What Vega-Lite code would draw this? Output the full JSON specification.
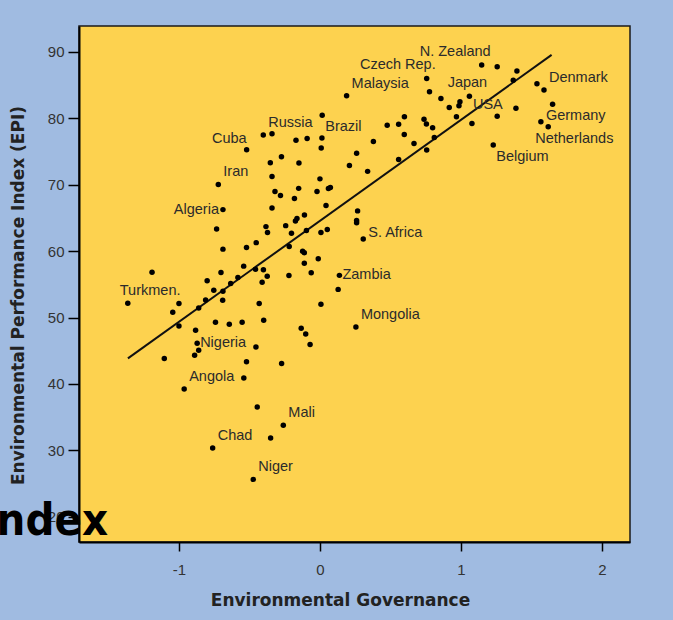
{
  "$schema": "https://vega.github.io/schema/vega-lite/v6.json",
  "autosize": {"type": "none"},
  "padding": {"left": 79, "top": 26, "right": 43, "bottom": 78},
  "width": 551,
  "height": 516,
  "background": "#a0bbe1",
  "title": {
    "text": "Index",
    "orient": "top",
    "anchor": "start",
    "frame": "group",
    "align": "right",
    "baseline": "alphabetic",
    "font": "DejaVu Sans Condensed",
    "fontWeight": "bold",
    "fontSize": 45,
    "color": "#000000",
    "offset": 0,
    "dx": 29,
    "dy": 554
  },
  "config": {
    "view": {"fill": "#fdd24f", "stroke": "#1a1a1a", "strokeWidth": 1.5},
    "text": {"font": "Liberation Sans", "fontSize": 14.5, "color": "#2b2b2b", "baseline": "middle"},
    "axis": {
      "grid": false,
      "domainColor": "#000000",
      "domainWidth": 2,
      "tickColor": "#000000",
      "tickWidth": 1.5,
      "labelFont": "Liberation Sans",
      "labelFontSize": 15,
      "labelColor": "#333333",
      "titleFont": "DejaVu Sans",
      "titleFontWeight": "bold",
      "titleFontSize": 17,
      "titleColor": "#222222"
    }
  },
  "datasets": {
    "countries": [
      {"governance": 1.147, "epi": 88.04, "country": "N. Zealand"},
      {"governance": 1.257, "epi": 87.78},
      {"governance": 1.397, "epi": 87.14},
      {"governance": 1.371, "epi": 85.73},
      {"governance": 1.539, "epi": 85.22},
      {"governance": 1.589, "epi": 84.27, "country": "Denmark"},
      {"governance": 1.65, "epi": 82.12},
      {"governance": 1.567, "epi": 79.49, "country": "Germany"},
      {"governance": 1.619, "epi": 78.74, "country": "Netherlands"},
      {"governance": 1.39, "epi": 81.51},
      {"governance": 1.257, "epi": 80.31},
      {"governance": 1.078, "epi": 79.22},
      {"governance": 1.229, "epi": 75.98, "country": "Belgium"},
      {"governance": 0.757, "epi": 86.0, "country": "Czech Rep."},
      {"governance": 0.777, "epi": 84.0},
      {"governance": 0.858, "epi": 82.99},
      {"governance": 0.917, "epi": 81.63},
      {"governance": 0.993, "epi": 82.51, "country": "USA"},
      {"governance": 0.986, "epi": 81.9},
      {"governance": 1.06, "epi": 83.32, "country": "Japan"},
      {"governance": 0.968, "epi": 80.25},
      {"governance": 0.738, "epi": 79.85},
      {"governance": 0.755, "epi": 79.15},
      {"governance": 0.799, "epi": 78.59},
      {"governance": 0.811, "epi": 77.11},
      {"governance": 0.667, "epi": 76.21},
      {"governance": 0.757, "epi": 75.23},
      {"governance": 0.189, "epi": 83.4, "country": "Malaysia"},
      {"governance": 0.599, "epi": 80.25},
      {"governance": 0.558, "epi": 79.12},
      {"governance": 0.477, "epi": 78.96},
      {"governance": 0.598, "epi": 77.56},
      {"governance": 0.379, "epi": 76.51},
      {"governance": 0.26, "epi": 74.74},
      {"governance": 0.209, "epi": 72.89},
      {"governance": 0.338, "epi": 72.01},
      {"governance": 0.558, "epi": 73.79},
      {"governance": 0.016, "epi": 80.47, "country": "Brazil"},
      {"governance": -0.402, "epi": 77.49, "country": "Russia"},
      {"governance": -0.34, "epi": 77.68},
      {"governance": -0.17, "epi": 76.7},
      {"governance": -0.091, "epi": 76.96},
      {"governance": 0.014, "epi": 77.03},
      {"governance": 0.009, "epi": 75.53},
      {"governance": -0.52, "epi": 75.27, "country": "Cuba"},
      {"governance": -0.273, "epi": 74.22},
      {"governance": -0.352, "epi": 73.31},
      {"governance": -0.149, "epi": 73.27},
      {"governance": -0.34, "epi": 71.23},
      {"governance": 0.0, "epi": 70.88},
      {"governance": -0.151, "epi": 69.45},
      {"governance": -0.021, "epi": 68.97},
      {"governance": 0.06, "epi": 69.42},
      {"governance": 0.074, "epi": 69.57},
      {"governance": -0.319, "epi": 68.97},
      {"governance": -0.28, "epi": 68.37},
      {"governance": -0.181, "epi": 67.91},
      {"governance": 0.043, "epi": 66.86},
      {"governance": -0.34, "epi": 66.48},
      {"governance": 0.267, "epi": 66.06},
      {"governance": 0.26, "epi": 64.6},
      {"governance": 0.26, "epi": 64.27},
      {"governance": -0.11, "epi": 65.43},
      {"governance": -0.174, "epi": 64.52},
      {"governance": -0.163, "epi": 64.9},
      {"governance": -0.383, "epi": 63.69},
      {"governance": -0.243, "epi": 63.84},
      {"governance": -0.096, "epi": 63.09},
      {"governance": 0.007, "epi": 62.79},
      {"governance": 0.052, "epi": 63.24},
      {"governance": -0.372, "epi": 62.79},
      {"governance": -0.202, "epi": 62.68},
      {"governance": 0.307, "epi": 61.81, "country": "S. Africa"},
      {"governance": -0.721, "epi": 70.05, "country": "Iran"},
      {"governance": -0.688, "epi": 66.25, "country": "Algeria"},
      {"governance": -0.733, "epi": 63.32},
      {"governance": -0.688, "epi": 60.3},
      {"governance": -0.521, "epi": 60.56},
      {"governance": -0.452, "epi": 61.28},
      {"governance": -0.218, "epi": 60.71},
      {"governance": -0.123, "epi": 60.0},
      {"governance": -0.111, "epi": 59.77},
      {"governance": -0.111, "epi": 58.19},
      {"governance": -0.012, "epi": 58.84},
      {"governance": -1.191, "epi": 56.83},
      {"governance": -0.702, "epi": 56.79},
      {"governance": -0.541, "epi": 57.74},
      {"governance": -0.457, "epi": 57.28},
      {"governance": -0.401, "epi": 57.18},
      {"governance": -0.374, "epi": 56.23},
      {"governance": -0.8, "epi": 55.55},
      {"governance": -0.753, "epi": 54.12},
      {"governance": -0.688, "epi": 53.97},
      {"governance": -0.633, "epi": 55.14},
      {"governance": -0.582, "epi": 56.03},
      {"governance": -0.41, "epi": 55.32},
      {"governance": -0.22, "epi": 56.34},
      {"governance": -0.062, "epi": 56.76},
      {"governance": 0.138, "epi": 56.35, "country": "Zambia"},
      {"governance": 0.129, "epi": 54.24},
      {"governance": -1.363, "epi": 52.14, "country": "Turkmen."},
      {"governance": -1.0, "epi": 52.13},
      {"governance": -0.811, "epi": 52.64},
      {"governance": -0.69, "epi": 52.61},
      {"governance": -0.431, "epi": 52.11},
      {"governance": 0.007, "epi": 52.01},
      {"governance": -1.044, "epi": 50.8},
      {"governance": -0.86, "epi": 51.44},
      {"governance": -1.0, "epi": 48.74},
      {"governance": -0.882, "epi": 48.09},
      {"governance": -0.741, "epi": 49.29},
      {"governance": -0.643, "epi": 48.99},
      {"governance": -0.552, "epi": 49.29},
      {"governance": -0.399, "epi": 49.6},
      {"governance": -0.133, "epi": 48.39},
      {"governance": -0.101, "epi": 47.52},
      {"governance": -0.07, "epi": 45.93},
      {"governance": -0.871, "epi": 46.13, "country": "Nigeria"},
      {"governance": -0.86, "epi": 45.07},
      {"governance": -0.889, "epi": 44.32},
      {"governance": -1.104, "epi": 43.84},
      {"governance": -0.454, "epi": 45.57},
      {"governance": -0.521, "epi": 43.34},
      {"governance": -0.272, "epi": 43.07},
      {"governance": -0.54, "epi": 40.9},
      {"governance": -0.963, "epi": 39.24, "country": "Angola"},
      {"governance": -0.445, "epi": 36.52},
      {"governance": -0.26, "epi": 33.77, "country": "Mali"},
      {"governance": -0.35, "epi": 31.85},
      {"governance": -0.761, "epi": 30.34, "country": "Chad"},
      {"governance": -0.473, "epi": 25.63, "country": "Niger"},
      {"governance": 0.255, "epi": 48.59, "country": "Mongolia"}
    ],
    "fit": [
      {"governance": -1.362, "epi": 43.85},
      {"governance": 1.643, "epi": 89.55}
    ],
    "notes": [
      {"note": "R Sq Linear = 0.56"}
    ]
  },
  "encoding": {
    "x": {
      "field": "governance",
      "type": "quantitative",
      "scale": {"domain": [-1.709, 2.199], "nice": false, "zero": false},
      "axis": {
        "values": [-1, 0, 1, 2],
        "labelExpr": "replace(datum.label, '\u2212', '-')",
        "title": "Environmental Governance",
        "tickSize": 9,
        "labelPadding": 11,
        "titleX": 261,
        "titleY": 58,
        "titleAlign": "center",
        "titleBaseline": "middle"
      }
    },
    "y": {
      "field": "epi",
      "type": "quantitative",
      "scale": {"domain": [16.2, 93.9], "nice": false, "zero": false},
      "axis": {
        "values": [20, 30, 40, 50, 60, 70, 80, 90],
        "title": "Environmental Performance Index (EPI)",
        "tickSize": 11,
        "labelPadding": 4,
        "titleX": -61,
        "titleY": 269,
        "titleAlign": "center",
        "titleBaseline": "middle"
      }
    }
  },
  "layer": [
    {
      "data": {"name": "fit"},
      "mark": {"type": "line", "color": "#111111", "strokeWidth": 2}
    },
    {
      "data": {"name": "countries"},
      "mark": {"type": "circle", "color": "#000000", "opacity": 1, "size": 30}
    },
    {
      "data": {"name": "countries"},
      "transform": [{"filter": {"field": "country", "oneOf": ["Mongolia", "Mali", "Chad", "Niger", "Iran", "Russia", "Malaysia", "Angola", "Denmark"]}}],
      "mark": {"type": "text", "align": "left", "dx": 5, "dy": -12},
      "encoding": {"text": {"field": "country"}}
    },
    {
      "data": {"name": "countries"},
      "transform": [{"filter": {"field": "country", "oneOf": ["Zambia", "Nigeria"]}}],
      "mark": {"type": "text", "align": "left", "dx": 3, "dy": 0},
      "encoding": {"text": {"field": "country"}}
    },
    {
      "data": {"name": "countries"},
      "transform": [{"filter": {"field": "country", "oneOf": ["S. Africa", "Germany"]}}],
      "mark": {"type": "text", "align": "left", "dx": 5, "dy": -6},
      "encoding": {"text": {"field": "country"}}
    },
    {
      "data": {"name": "countries"},
      "transform": [{"filter": {"field": "country", "oneOf": ["N. Zealand", "Czech Rep."]}}],
      "mark": {"type": "text", "align": "right", "dx": 9, "dy": -13},
      "encoding": {"text": {"field": "country"}}
    },
    {
      "data": {"name": "countries"},
      "transform": [{"filter": {"field": "country", "oneOf": ["Cuba"]}}],
      "mark": {"type": "text", "align": "right", "dx": 0, "dy": -11},
      "encoding": {"text": {"field": "country"}}
    },
    {
      "data": {"name": "countries"},
      "transform": [{"filter": {"field": "country", "oneOf": ["Algeria"]}}],
      "mark": {"type": "text", "align": "right", "dx": -4, "dy": 0},
      "encoding": {"text": {"field": "country"}}
    },
    {
      "data": {"name": "countries"},
      "transform": [{"filter": {"field": "country", "oneOf": ["Belgium", "Brazil"]}}],
      "mark": {"type": "text", "align": "left", "dx": 3, "dy": 12},
      "encoding": {"text": {"field": "country"}}
    },
    {
      "data": {"name": "countries"},
      "transform": [{"filter": {"field": "country", "oneOf": ["Netherlands"]}}],
      "mark": {"type": "text", "align": "left", "dx": -13, "dy": 12},
      "encoding": {"text": {"field": "country"}}
    },
    {
      "data": {"name": "countries"},
      "transform": [{"filter": {"field": "country", "oneOf": ["Japan"]}}],
      "mark": {"type": "text", "align": "center", "dx": -2, "dy": -13},
      "encoding": {"text": {"field": "country"}}
    },
    {
      "data": {"name": "countries"},
      "transform": [{"filter": {"field": "country", "oneOf": ["USA"]}}],
      "mark": {"type": "text", "align": "left", "dx": 13, "dy": 3},
      "encoding": {"text": {"field": "country"}}
    },
    {
      "data": {"name": "countries"},
      "transform": [{"filter": {"field": "country", "oneOf": ["Turkmen."]}}],
      "mark": {"type": "text", "align": "left", "dx": -8, "dy": -12},
      "encoding": {"text": {"field": "country"}}
    },
    {
      "data": {"name": "notes"},
      "mark": {"type": "text", "align": "center", "fontSize": 17, "color": "#333333"},
      "encoding": {
        "x": {"datum": 1.461},
        "y": {"datum": 26.68},
        "text": {"field": "note"}
      }
    }
  ]
}
